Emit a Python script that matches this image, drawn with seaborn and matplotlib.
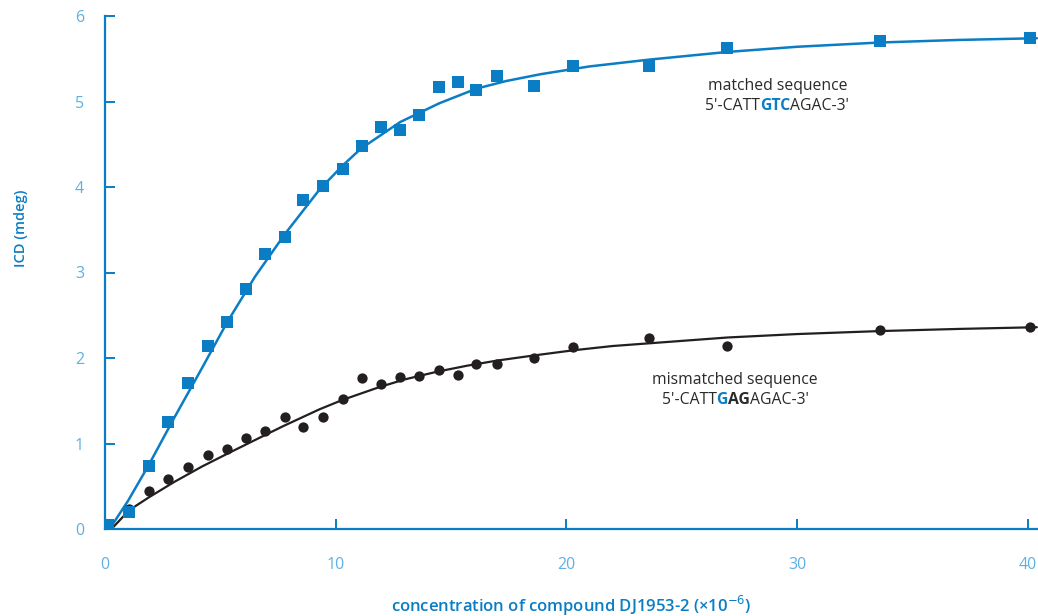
import numpy as np
import pandas as pd
import matplotlib
matplotlib.use("Agg")
import matplotlib.pyplot as plt
import seaborn as sns

# ---- data ----
conc = [0.15, 1.05, 1.9, 2.75, 3.6, 4.45, 5.3, 6.1, 6.95, 7.8, 8.6, 9.45, 10.3,
        11.15, 11.95, 12.8, 13.6, 14.5, 15.3, 16.1, 17.0, 18.6, 20.3, 23.6,
        26.95, 33.6, 40.1]
matched = [0.05, 0.2, 0.74, 1.25, 1.71, 2.14, 2.42, 2.81, 3.22, 3.42, 3.85,
           4.01, 4.21, 4.48, 4.70, 4.67, 4.84, 5.17, 5.23, 5.13, 5.30, 5.18,
           5.42, 5.42, 5.62, 5.71, 5.74]
mismatched = [0.05, 0.23, 0.44, 0.58, 0.72, 0.87, 0.94, 1.06, 1.15, 1.31, 1.19,
              1.31, 1.52, 1.77, 1.70, 1.78, 1.79, 1.86, 1.80, 1.93, 1.93, 2.0,
              2.13, 2.23, 2.14, 2.33, 2.36]

# fitted curves
fit_m_x = [0.2, 1.0, 1.9, 3.0, 4.2, 5.3, 6.5, 7.8, 9.3, 10.3, 11.1, 12.8, 14.5,
           16.1, 17.4, 18.9, 21.0, 23.6, 27.0, 30.0, 33.6, 37.0, 40.4]
fit_m_y = [0.0, 0.33, 0.75, 1.30, 1.88, 2.42, 2.95, 3.45, 3.97, 4.25, 4.45,
           4.76, 4.98, 5.15, 5.24, 5.32, 5.41, 5.49, 5.58, 5.64, 5.69, 5.72,
           5.74]
fit_mm_x = [0.35, 1.05, 1.9, 3.0, 4.2, 5.3, 6.5, 7.7, 9.3, 10.3, 11.9, 13.0,
            14.4, 15.7, 17.0, 18.6, 20.3, 22.0, 24.0, 27.0, 30.0, 33.6, 37.0,
            40.4]
fit_mm_y = [0.02, 0.22, 0.37, 0.55, 0.73, 0.88, 1.04, 1.20, 1.40, 1.51, 1.66,
            1.75, 1.84, 1.91, 1.97, 2.03, 2.09, 2.14, 2.18, 2.24, 2.28, 2.315,
            2.34, 2.36]

xticks = [0, 10, 20, 30, 40]
yticks = [0, 1, 2, 3, 4, 5, 6]

BLUE = "#0a7dc4"
TICKBLUE = "#5fb0e2"
DARK = "#231f20"
TEXT = "#2a2a2a"

sns.set_theme(style="white")
plt.rcParams["font.family"] = ["Open Sans", "DejaVu Sans"]

fig = plt.figure(figsize=(10.38, 6.16), dpi=100)
ax = fig.add_axes([105 / 1038, 1 - 529 / 616, 933 / 1038, 513 / 616])

df = pd.DataFrame({"conc": conc, "matched": matched, "mismatched": mismatched})
fm = pd.DataFrame({"x": fit_m_x, "y": fit_m_y})
fmm = pd.DataFrame({"x": fit_mm_x, "y": fit_mm_y})

sns.lineplot(data=fmm, x="x", y="y", ax=ax, color=DARK, lw=1.6, sort=True,
             zorder=2)
sns.lineplot(data=fm, x="x", y="y", ax=ax, color=BLUE, lw=1.8, sort=True,
             zorder=2)
sns.scatterplot(data=df, x="conc", y="mismatched", ax=ax, color=DARK,
                marker="o", s=55, linewidth=0, zorder=3)
sns.scatterplot(data=df, x="conc", y="matched", ax=ax, color=BLUE,
                marker="s", s=80, linewidth=0, zorder=4)

ax.set_xlim(0, 40.45)
ax.set_ylim(0, 6)
ax.set_xticks(xticks)
ax.set_yticks(yticks)
ax.set_xticklabels([str(t) for t in xticks])
ax.set_yticklabels([str(t) for t in yticks])

for s in ["top", "right"]:
    ax.spines[s].set_visible(False)
for s in ["left", "bottom"]:
    ax.spines[s].set_color(BLUE)
    ax.spines[s].set_linewidth(1.6)

ax.tick_params(axis="y", direction="in", length=7, width=1.4, color=BLUE,
               labelcolor=TICKBLUE, labelsize=11.5, pad=15, left=True)
ax.tick_params(axis="x", direction="in", length=7.5, width=1.4, color=BLUE,
               labelcolor=TICKBLUE, labelsize=11.5, pad=20, bottom=True)

ax.set_xlabel("concentration of compound DJ1953-2 (×10$^{-6}$)", color=BLUE,
              fontsize=12, fontweight="semibold", labelpad=15)
ax.set_ylabel("ICD (mdeg)", color=BLUE, fontsize=10.5, fontweight="semibold")
ax.yaxis.set_label_coords(-0.083, 0.587)
ax.grid(False)


def rich_text(ax, x, y, parts, fontsize=11):
    """Draw consecutive text pieces centered at data point (x, y)."""
    fig = ax.figure
    fig.canvas.draw()
    r = fig.canvas.get_renderer()
    widths = []
    artists = []
    for txt, col, wt in parts:
        t = ax.text(0, 0, txt, color=col, fontweight=wt, fontsize=fontsize,
                    ha="left", va="center")
        widths.append(t.get_window_extent(renderer=r).width)
        artists.append(t)
    total = sum(widths)
    x0, y0 = ax.transData.transform((x, y))
    cur = x0 - total / 2
    inv = ax.transData.inverted()
    for t, w in zip(artists, widths):
        t.set_position(inv.transform((cur, y0)))
        cur += w


fs = 11.3
ax.text(29.15, 5.18, "matched sequence", ha="center", va="center",
        color=TEXT, fontsize=fs)
rich_text(ax, 29.15, 4.95, [("5'-CATT", TEXT, "normal"),
                            ("GTC", BLUE, "bold"),
                            ("AGAC-3'", TEXT, "normal")], fs)
ax.text(27.32, 1.74, "mismatched sequence", ha="center", va="center",
        color=TEXT, fontsize=fs)
rich_text(ax, 27.32, 1.51, [("5'-CATT", TEXT, "normal"),
                            ("G", BLUE, "bold"),
                            ("AG", TEXT, "bold"),
                            ("AGAC-3'", TEXT, "normal")], fs)

fig.savefig("out.png", dpi=100)
